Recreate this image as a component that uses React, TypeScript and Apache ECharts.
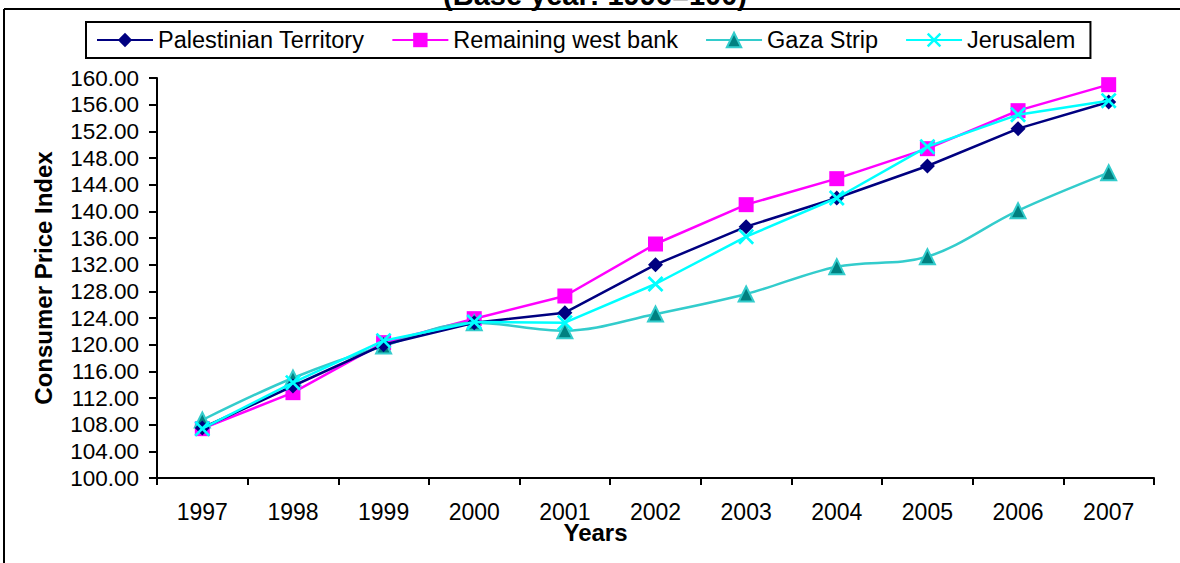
import React, { useEffect, useRef } from "react";
import * as echarts from "echarts";

const years = ["1997", "1998", "1999", "2000", "2001", "2002", "2003", "2004", "2005", "2006", "2007"];
const palestinianTerritory = [107.5, 113.8, 120.0, 123.3, 124.8, 132.0, 137.7, 142.0, 146.8, 152.4, 156.4];
const remainingWestBank = [107.4, 112.8, 120.3, 123.9, 127.3, 135.1, 141.0, 144.9, 149.4, 155.1, 159.0];
const gazaStrip = [108.7, 115.0, 119.8, 123.3, 122.1, 124.6, 127.6, 131.7, 133.2, 140.1, 145.8];
const jerusalem = [107.4, 114.3, 120.6, 123.4, 123.3, 129.1, 136.2, 142.0, 149.7, 154.5, 156.6];

const titleText = "(Base year: 1996=100)";
const xName = "Years";
const yName = "Consumer Price Index";

const FONT = "Arial, 'Liberation Sans', sans-serif";
const X_SYMBOL =
  "path://M0,1.2 L1.2,0 L5,3.8 L8.8,0 L10,1.2 L6.2,5 L10,8.8 L8.8,10 L5,6.2 L1.2,10 L0,8.8 L3.8,5 Z";

export default function App() {
  const ref = useRef<HTMLDivElement>(null);
  useEffect(() => {
    if (!ref.current) return;
    const chart = echarts.init(ref.current, null, { renderer: "svg" });
    chart.setOption({
      animation: false,
      backgroundColor: "#ffffff",
      textStyle: { fontFamily: FONT },
      graphic: [
        {
          type: "text",
          x: 595,
          y: 9,
          style: {
            text: titleText,
            font: `bold 29px ${FONT}`,
            fill: "#000",
            textAlign: "center",
            textVerticalAlign: "bottom",
          },
        },
        { type: "line", shape: { x1: 4, y1: 9, x2: 1180, y2: 9 }, style: { stroke: "#000", lineWidth: 2 } },
        { type: "line", shape: { x1: 4, y1: 9, x2: 4, y2: 563 }, style: { stroke: "#000", lineWidth: 2 } },
      ],
      legend: {
        left: 86,
        top: 22,
        padding: [6, 15, 6, 10],
        borderColor: "#000",
        borderWidth: 2,
        itemWidth: 56,
        itemHeight: 18,
        itemGap: 27,
        textStyle: { fontSize: 23.5, color: "#000", fontFamily: FONT },
        data: ["Palestinian Territory", "Remaining west bank", "Gaza Strip", "Jerusalem"],
      },
      grid: { left: 157, right: 26, top: 78, bottom: 85, containLabel: false },
      xAxis: {
        type: "category",
        data: years,
        boundaryGap: true,
        name: xName,
        nameLocation: "middle",
        nameGap: 42,
        nameMoveOverlap: false,
        nameTextStyle: {
          fontSize: 24,
          fontWeight: "bold",
          color: "#000",
          fontFamily: FONT,
          padding: [0, 120, 0, 0],
        },
        axisLine: { lineStyle: { color: "#000", width: 2 } },
        axisTick: { show: true, length: 7, lineStyle: { color: "#000", width: 2 } },
        axisLabel: { fontSize: 23, color: "#000", margin: 22, fontFamily: FONT },
      },
      yAxis: {
        type: "value",
        min: 100,
        max: 160,
        interval: 4,
        name: yName,
        nameLocation: "middle",
        nameGap: 102,
        nameMoveOverlap: false,
        nameRotate: 90,
        nameTextStyle: { fontSize: 24, fontWeight: "bold", color: "#000", fontFamily: FONT },
        axisLine: { show: true, lineStyle: { color: "#000", width: 2 } },
        axisTick: { show: true, length: 8, lineStyle: { color: "#000", width: 2 } },
        splitLine: { show: false },
        axisLabel: {
          fontSize: 22.5,
          color: "#000",
          margin: 18,
          fontFamily: FONT,
          formatter: (v: number) => v.toFixed(2),
        },
      },
      series: [
        {
          name: "Palestinian Territory",
          type: "line",
          data: palestinianTerritory,
          symbol: "diamond",
          symbolSize: 15,
          lineStyle: { color: "#000080", width: 2.5 },
          itemStyle: { color: "#000080" },
          z: 3,
        },
        {
          name: "Remaining west bank",
          type: "line",
          data: remainingWestBank,
          symbol: "rect",
          symbolSize: 15,
          lineStyle: { color: "#FF00FF", width: 2.5 },
          itemStyle: { color: "#FF00FF" },
          z: 2,
        },
        {
          name: "Gaza Strip",
          type: "line",
          data: gazaStrip,
          smooth: 0.35,
          symbol: "triangle",
          symbolSize: 15,
          lineStyle: { color: "#33CCCC", width: 2.5 },
          itemStyle: { color: "#008080", borderColor: "#33CCCC", borderWidth: 2 },
          z: 2,
        },
        {
          name: "Jerusalem",
          type: "line",
          data: jerusalem,
          symbol: X_SYMBOL,
          symbolSize: 16,
          lineStyle: { color: "#00FFFF", width: 2.5 },
          itemStyle: { color: "#00FFFF" },
          z: 4,
        },
      ],
    });
    return () => chart.dispose();
  }, []);
  return (
    <div
      ref={ref}
      style={{ position: "fixed", left: 0, top: 0, width: 1180, height: 563, background: "#fff" }}
    />
  );
}
